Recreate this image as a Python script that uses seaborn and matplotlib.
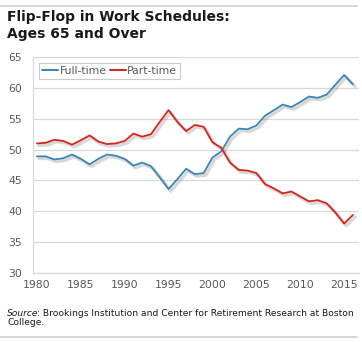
import matplotlib
matplotlib.use("Agg")
import matplotlib.pyplot as plt
import matplotlib.patheffects as pe
from matplotlib.lines import Line2D
import pandas as pd
import seaborn as sns

# Share of workers aged 65+ by schedule (%)
years = list(range(1980, 2017))
full_time = [48.9, 48.9, 48.4, 48.6, 49.2, 48.5, 47.6, 48.5, 49.2, 49.0,
             48.5, 47.4, 47.9, 47.3, 45.5, 43.6, 45.2, 46.9, 46.0, 46.2,
             48.7, 49.7, 52.1, 53.4, 53.3, 53.9, 55.5, 56.4, 57.3, 56.9,
             57.7, 58.6, 58.4, 58.9, 60.5, 62.1, 60.6]
part_time = [51.0, 51.1, 51.6, 51.4, 50.8, 51.5, 52.3, 51.3, 50.9, 51.0,
             51.4, 52.6, 52.1, 52.5, 54.5, 56.4, 54.5, 53.0, 54.0, 53.7,
             51.2, 50.3, 47.9, 46.7, 46.6, 46.2, 44.4, 43.7, 42.9, 43.2,
             42.4, 41.6, 41.8, 41.3, 39.8, 38.0, 39.4]
series_names = ["Full-time", "Part-time"]
colors = ["#3b86b6", "#d8241b"]
x_ticks = [1980, 1985, 1990, 1995, 2000, 2005, 2010, 2015]
y_ticks = [30, 35, 40, 45, 50, 55, 60, 65]

df = pd.DataFrame({
    "Year": years * 2,
    "Share": full_time + part_time,
    "Schedule": [series_names[0]] * len(years) + [series_names[1]] * len(years),
})

sns.set_style("white")
plt.rcParams["font.family"] = ["DejaVu Sans"]

fig = plt.figure(figsize=(3.62, 3.42), dpi=100)
ax = fig.add_axes([0.091, 0.202, 0.902, 0.631])

sns.lineplot(data=df, x="Year", y="Share", hue="Schedule",
             palette=dict(zip(series_names, colors)), linewidth=1.3,
             ax=ax, legend=False)

shadow = [pe.SimpleLineShadow(offset=(1.5, -1.5), shadow_color="#808080",
                              alpha=0.3, linewidth=2.4),
          pe.Normal()]
for line in ax.get_lines():
    line.set_path_effects(shadow)
    line.set_solid_joinstyle("round")

ax.set_xlim(1979.55, 2016.75)
ax.set_ylim(30, 65)
ax.set_xticks(x_ticks)
ax.set_yticks(y_ticks)
ax.set_xlabel("")
ax.set_ylabel("")
ax.grid(axis="y", color="#d9d9d9", linewidth=0.9)
ax.grid(axis="x", visible=False)
ax.tick_params(axis="both", length=0, labelsize=7.8, labelcolor="#595959")
ax.tick_params(axis="x", pad=5)
ax.tick_params(axis="y", pad=8)
for side in ["top", "right"]:
    ax.spines[side].set_visible(False)
for side in ["left", "bottom"]:
    ax.spines[side].set_color("#d9d9d9")
    ax.spines[side].set_linewidth(0.9)

handles = [Line2D([], [], color=c, linewidth=1.4) for c in colors]
leg = ax.legend(handles, series_names, loc="upper left",
                bbox_to_anchor=(0.018, 0.975), ncol=2, frameon=True,
                fancybox=False, fontsize=7.8, handlelength=1.5,
                handletextpad=0.1, columnspacing=0.3, borderpad=0.3,
                borderaxespad=0.0)
leg.get_frame().set_edgecolor("#bfbfbf")
leg.get_frame().set_linewidth(0.8)
for t in leg.get_texts():
    t.set_color("#595959")

# Title
fig.text(0.02, 1 - 21.5 / 342, "Flip-Flop in Work Schedules:",
         fontsize=10, fontweight="bold", color="#1a1a1a",
         va="baseline", ha="left")
fig.text(0.02, 1 - 38 / 342, "Ages 65 and Over",
         fontsize=10, fontweight="bold", color="#1a1a1a",
         va="baseline", ha="left")

# Separator rules
fig.add_artist(Line2D([0.0, 0.985], [0.982, 0.982], color="#d0d0d0",
                      linewidth=1.2, transform=fig.transFigure))
fig.add_artist(Line2D([0.0, 0.985], [0.015, 0.015], color="#d0d0d0",
                      linewidth=1.2, transform=fig.transFigure))

# Source note
src = fig.text(0.02, 1 - 316.5 / 342, "Source", fontsize=6.6, style="italic",
               color="#1a1a1a", va="baseline", ha="left")
fig.canvas.draw()
ax.annotate(": Brookings Institution and Center for Retirement Research at Boston",
            xy=(1, 0), xycoords=src, xytext=(-1.2, 0), textcoords="offset points",
            va="bottom", ha="left",
            fontsize=6.6, color="#1a1a1a", annotation_clip=False)
fig.text(0.02, 1 - 325 / 342, "College.", fontsize=6.6, color="#1a1a1a",
         va="baseline", ha="left")

fig.savefig("out.png", dpi=100)
